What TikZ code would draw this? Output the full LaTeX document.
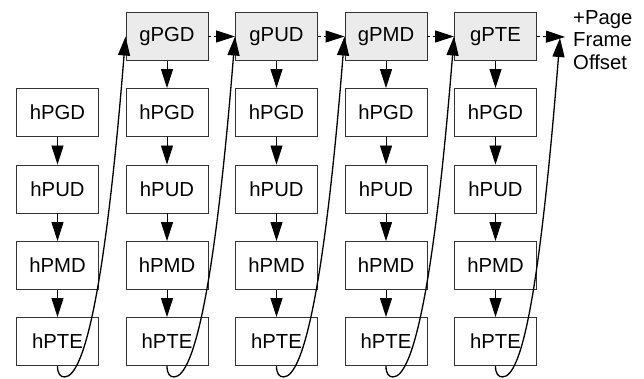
\documentclass[tikz,border=0pt]{standalone}
\usepackage{fontspec}
\setmainfont{Liberation Sans}
\usetikzlibrary{arrows.meta}
\definecolor{gfill}{HTML}{EBEBEB}
\definecolor{edge}{HTML}{333333}
\begin{document}
\begin{tikzpicture}[x=1pt,y=-1pt,
  box/.style={draw=edge, line width=0.9pt, minimum width=82pt, minimum height=48pt,
    inner sep=0pt, font=\fontsize{20.3}{24}\selectfont, fill=white},
  gbox/.style={box, fill=gfill},
  tip/.style={-{Triangle[length=19pt,width=12pt]}},
  vlink/.style={tip, line width=0.9pt},
  dlink/.style={tip, line width=0.9pt, dash pattern=on 3pt off 3pt},
  loopy/.style={tip, line width=1.3pt}]
\useasboundingbox (0,0) rectangle (644,379);
% columns
\foreach \c/\lab in {1/gPGD,2/gPUD,3/gPMD,4/gPTE}{
  \node[gbox] (g\c) at ({57.5+109.5*\c},36.5) {\lab};
}
\foreach \c in {0,...,4}{
  \node[box] (a\c) at ({57.5+109.5*\c},112.5) {hPGD};
  \node[box] (b\c) at ({57.5+109.5*\c},189) {hPUD};
  \node[box] (m\c) at ({57.5+109.5*\c},265.5) {hPMD};
  \node[box] (t\c) at ({57.5+109.5*\c},341.5) {hPTE};
  \draw[vlink] (a\c) -- (b\c);
  \draw[vlink] (b\c) -- (m\c);
  \draw[vlink] (m\c) -- (t\c);
}
\foreach \c in {1,...,4}{
  \draw[vlink] (g\c) -- (a\c);
}
\node[anchor=north west, inner sep=0pt, align=left,
  font=\fontsize{20.3}{22.5}\selectfont] (txt) at (573,10) {+Page\\Frame\\Offset};
\coordinate (pfoin) at (565,37);
\coordinate (pfoloop) at (560,38);
% dashed links
\draw[dlink] (g1) -- (g2);
\draw[dlink] (g2) -- (g3);
\draw[dlink] (g3) -- (g4);
\draw[dlink] (g4.east) -- (pfoin);
% loops
\foreach \c/\n in {0/1,1/2,2/3,3/4}{
  \draw[loopy] (t\c.south) .. controls +(0,8) and +(-4,0) .. ++(7,11)
     .. controls +(20,0) and +(-20,250) .. (g\n.west);
}
\draw[loopy] (t4.south) .. controls +(0,8) and +(-4,0) .. ++(7,11)
     .. controls +(20,0) and +(-20,250) .. (pfoloop);
\end{tikzpicture}
\end{document}
